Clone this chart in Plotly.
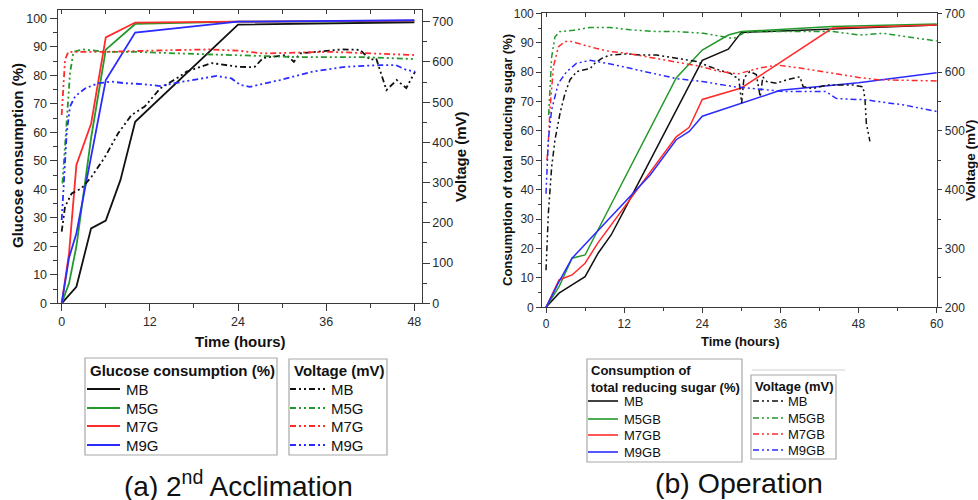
import plotly.graph_objects as go

# ---------------- (a) 2nd Acclimation : glucose consumption (%) ----------------
a_t_MB = [0, 2, 4, 6, 8, 10, 24, 48]
a_g_MB = [0, 5.8, 26.3, 29, 43.3, 63.7, 97.8, 98.6]
a_t_G = [0, 1, 2, 4, 6, 10, 24, 48]
a_g_M5G = [0, 7, 20, 58, 89, 98, 98.8, 99.0]
a_g_M7G = [0, 17.6, 48.5, 63, 93.3, 98.5, 98.8, 99.2]
a_g_M9G = [0, 16, 24.6, 51, 78.3, 95, 98.8, 99.3]

# (a) voltage (mV)
a_vt_MB = [0, 0.45, 1.36, 2.72, 4.08, 5.9, 7.7, 9.5, 11.3, 13.4, 16, 17, 20.4, 22.9, 24,
           25.6, 26.3, 27.4, 30.6, 31.6, 32.4, 34.7, 38, 40.6, 42, 42.8, 44.2, 45.6, 46.9, 48.1]
a_v_MB = [178, 240, 273, 286, 315, 364, 423, 468, 489, 534, 563, 576, 597, 592, 588,
          587, 588, 610, 617, 600, 621, 625, 631, 630, 605, 609, 530, 555, 535, 576]
a_vt_M5G = [0.1, 0.68, 1.13, 1.6, 2.9, 6, 10, 16, 24, 32, 41, 48]
a_v_M5G = [298, 439, 572, 625, 631, 625, 625, 621, 617, 612, 612, 607]
a_vt_M7G = [0, 0.23, 0.45, 0.9, 1.8, 6, 12, 20, 24, 27.4, 36.5, 48]
a_v_M7G = [468, 547, 605, 625, 625, 625, 628, 631, 628, 621, 625, 617]
a_vt_M9G = [0, 0.23, 0.68, 1.13, 1.81, 3.17, 5, 6.8, 8.6, 10.9, 13.4, 16.5, 21.1, 23.1, 24.3,
            25.6, 27.4, 29.7, 34.2, 38.7, 43.3, 45.5, 46.9, 48.1]
a_v_M9G = [207, 290, 423, 489, 514, 534, 547, 551, 547, 545, 540, 551, 565, 559, 543,
           538, 545, 555, 576, 588, 592, 592, 580, 576]

# ---------------- (b) Operation : consumption of total reducing sugar (%) ----------------
b_t_MB = [0, 2, 4, 6, 8, 10, 12, 24, 28, 30, 60]
b_s_MB = [0, 4.8, 7.6, 10.4, 18.4, 24.6, 33, 84, 87.8, 93.5, 96]
b_t_M5GB = [0, 2, 4, 6, 20, 24, 28, 30, 44, 60]
b_s_M5GB = [0, 7, 16.7, 17.8, 78, 87.5, 92.6, 93.8, 95.5, 96.4]
b_t_M7GB = [0, 2, 4, 6, 8, 10, 12, 16, 20, 22, 24, 30, 44, 60]
b_s_M7GB = [0, 9.3, 11, 15, 22, 28, 34, 45.6, 58, 61.2, 70.7, 74.6, 95, 96]
b_t_M9GB = [0, 2, 4, 16, 20, 22, 24, 36, 48, 60]
b_s_M9GB = [0, 8.7, 16.7, 45, 57, 59.8, 65, 73.8, 76.4, 79.8]

# (b) voltage (mV)
b_vt_MB = [0, 0.36, 0.87, 1.38, 2.15, 2.92, 3.69, 4.71, 6.76, 7.5, 8.5, 9.8, 12.4, 14.4, 17,
           20.1, 23.1, 25.2, 26.7, 28.3, 29, 29.6, 30.05, 30.4, 31.3, 32.3, 32.9, 33.3, 33.9, 35.4,
           37, 39, 39.5, 41, 43.1, 45.1, 47.2, 48.7, 49.0, 49.2, 49.75]
b_v_MB = [263, 360, 439, 485, 530, 564, 587, 601, 606, 615, 623, 629, 631, 629, 629,
          623, 618, 609, 603, 598, 592, 590, 547, 590, 601, 596, 558, 592, 584, 581,
          587, 592, 575, 572, 578, 578, 578, 575, 553, 513, 482]
b_vt_M5GB = [0.4, 0.87, 1.38, 2.15, 4.2, 6.76, 9.8, 12.9, 17, 20, 24.2, 27.2, 28.8, 30.3, 32.3,
             37.5, 42.6, 44.1, 48.2, 51.8, 55.4, 60]
b_v_M5GB = [527, 626, 660, 669, 671, 676, 676, 672, 669, 669, 666, 660, 657, 666, 669,
            669, 669, 669, 663, 666, 660, 653]
b_vt_M7GB = [0.15, 0.36, 0.61, 1.13, 1.89, 2.9, 3.9, 5.7, 7.8, 9.8, 12.4, 16, 20, 23.6, 26.7,
             29.5, 32.9, 35.5, 39, 44, 48, 51, 60]
b_v_M7GB = [450, 480, 536, 609, 643, 652, 652, 646, 640, 635, 632, 625, 617, 610, 601,
            597, 607, 612, 607, 598, 591, 587, 585]
b_vt_M9GB = [0, 0.36, 0.87, 1.89, 3.2, 4.7, 6.76, 8.0, 9.3, 11.9, 14.4, 16, 20, 24, 29,
             36.5, 43, 44.6, 49, 51, 55, 60]
b_v_M9GB = [393, 485, 536, 581, 601, 615, 620, 618, 615, 609, 603, 598, 589, 584, 575,
            567, 567, 555, 553, 550, 544, 533]

# legend labels
a_names = ["MB", "M5G", "M7G", "M9G"]
b_names = ["MB", "M5GB", "M7GB", "M9GB"]

# ---------------- styling ----------------
FONT = "Liberation Sans, Arial, sans-serif"
BLACK, GREEN, RED, BLUE = "#111111", "#22992a", "#ff2b2b", "#2b2bff"
COLORS = [BLACK, GREEN, RED, BLUE]
DASH = "6px,3px,2px,3px,2px,3px"
W, H = 978, 500

def X(px):
    return px / W

def Y(py):
    return 1 - py / H

fig = go.Figure()

def add(x, y, name, color, xa, ya, dashed, width):
    fig.add_trace(go.Scatter(
        x=x, y=y, name=name, mode="lines", xaxis=xa, yaxis=ya, showlegend=False,
        line=dict(color=color, width=width, dash=DASH if dashed else "solid")))

# (a) solid
add(a_t_MB, a_g_MB, "MB", BLACK, "x", "y", False, 1.8)
add(a_t_G, a_g_M5G, "M5G", GREEN, "x", "y", False, 1.8)
add(a_t_G, a_g_M7G, "M7G", RED, "x", "y", False, 1.8)
add(a_t_G, a_g_M9G, "M9G", BLUE, "x", "y", False, 1.8)
# (a) voltage
add(a_vt_MB, a_v_MB, "MB", BLACK, "x", "y2", True, 1.8)
add(a_vt_M5G, a_v_M5G, "M5G", GREEN, "x", "y2", True, 1.8)
add(a_vt_M7G, a_v_M7G, "M7G", RED, "x", "y2", True, 1.8)
add(a_vt_M9G, a_v_M9G, "M9G", BLUE, "x", "y2", True, 1.8)
# (b) solid
add(b_t_MB, b_s_MB, "MB", BLACK, "x2", "y3", False, 1.5)
add(b_t_M5GB, b_s_M5GB, "M5GB", GREEN, "x2", "y3", False, 1.5)
add(b_t_M7GB, b_s_M7GB, "M7GB", RED, "x2", "y3", False, 1.5)
add(b_t_M9GB, b_s_M9GB, "M9GB", BLUE, "x2", "y3", False, 1.5)
# (b) voltage
add(b_vt_MB, b_v_MB, "MB", BLACK, "x2", "y4", True, 1.5)
add(b_vt_M5GB, b_v_M5GB, "M5GB", GREEN, "x2", "y4", True, 1.5)
add(b_vt_M7GB, b_v_M7GB, "M7GB", RED, "x2", "y4", True, 1.5)
add(b_vt_M9GB, b_v_M9GB, "M9GB", BLUE, "x2", "y4", True, 1.5)

# dummy traces so the top tick axes get drawn
fig.add_trace(go.Scatter(x=[None], y=[None], xaxis="x3", yaxis="y", showlegend=False, hoverinfo="skip"))
fig.add_trace(go.Scatter(x=[None], y=[None], xaxis="x4", yaxis="y3", showlegend=False, hoverinfo="skip"))

AX = "#3a3a3a"
TK = "#2a2a2a"

def axis(domain, rng, dtick, minor, side=None, anchor=None, overlaying=None, fs=12.5,
         ticks="outside", labels=True, tl=7, mtl=4):
    d = dict(domain=domain, range=rng, dtick=dtick, tick0=0, ticks=ticks, ticklen=tl,
             tickwidth=1.2, tickcolor=AX, showline=True, linecolor=AX, linewidth=1.3,
             showgrid=False, zeroline=False, showticklabels=labels, automargin=False,
             tickfont=dict(family=FONT, size=fs, color=TK),
             minor=dict(dtick=minor, tick0=0, ticks=ticks, ticklen=mtl, tickwidth=1.1, tickcolor=AX))
    if side:
        d["side"] = side
    if anchor:
        d["anchor"] = anchor
    if overlaying:
        d["overlaying"] = overlaying
    return d

dxa = [X(57.7), X(421.7)]
dya = [Y(303.3), Y(10)]
dxb = [X(542.3), X(937.3)]
dyb = [Y(307.3), Y(13.3)]

lay = dict(
    xaxis=axis(dxa, [-0.545, 49.0], 12, 6, anchor="y", fs=12.5),
    yaxis=axis(dya, [0, 102.9], 10, 5, anchor="x", fs=12.5),
    yaxis2=axis(dya, [0, 729], 100, 50, side="right", anchor="x", overlaying="y", fs=12.5),
    xaxis3=axis(dxa, [-0.545, 49.0], 6, 6, side="top", anchor="y", overlaying="x",
                ticks="inside", labels=False, tl=4),
    xaxis2=axis(dxb, [-0.57, 60.1], 12, 6, anchor="y3", fs=12, tl=5, mtl=3),
    yaxis3=axis(dyb, [0, 100], 10, 5, anchor="x2", fs=12, tl=5, mtl=3),
    yaxis4=axis(dyb, [200, 700], 100, 50, side="right", anchor="x2", overlaying="y3", fs=12, tl=4, mtl=3),
    xaxis4=axis(dxb, [-0.57, 60.1], 6, 6, side="top", anchor="y3", overlaying="x2",
                ticks="inside", labels=False, tl=4),
)

fig.update_layout(
    width=W, height=H, margin=dict(l=0, r=0, t=0, b=0),
    paper_bgcolor="white", plot_bgcolor="white", showlegend=False,
    font=dict(family=FONT, color="#111"),
    **lay,
)

def ann(text, x, y, size, angle=0, bold=True, xanchor="center"):
    fig.add_annotation(text=f"<b>{text}</b>" if bold else text, x=X(x), y=Y(y),
                       xref="paper", yref="paper", showarrow=False, textangle=angle,
                       xanchor=xanchor, yanchor="middle",
                       font=dict(family=FONT, size=size, color="#111"))

# axis titles
ann("Glucose consumption (%)", 17, 156, 15, -90)
ann("Voltage (mV)", 460, 157, 15, -90)
ann("Time (hours)", 240, 341, 15)
ann("Consumption of total reducing sugar (%)", 507, 160, 13, -90)
ann("Voltage (mV)", 970, 160, 13.5, -90)
ann("Time (hours)", 740, 341, 13)

# captions
ann("(a) 2<sup>nd</sup> Acclimation", 238, 484, 28, bold=False)
ann("(b) Operation", 739, 483, 28.5, bold=False)

# ---------------- hand-laid legend boxes ----------------
def box(x0, y0, x1, y1):
    fig.add_shape(type="rect", xref="paper", yref="paper", x0=X(x0), x1=X(x1), y0=Y(y1), y1=Y(y0),
                  line=dict(color="#a8a8a8", width=1.2), fillcolor="rgba(0,0,0,0)", layer="above")

def legend_block(names, dashed, lx0, lx1, tx, rows, fs, width):
    for name, col, ry in zip(names, COLORS, rows):
        fig.add_shape(type="line", xref="paper", yref="paper", x0=X(lx0), x1=X(lx1), y0=Y(ry), y1=Y(ry),
                      line=dict(color=col, width=width, dash=DASH if dashed else "solid"))
        ann(name, tx, ry, fs, bold=False, xanchor="left")

# (a) glucose legend
box(85, 358, 277, 455)
ann("Glucose consumption (%)", 88, 370, 15, xanchor="left")
legend_block(a_names, False, 87, 120, 124, [389, 408, 426, 445], 15, 1.8)
# (a) voltage legend
box(289, 359, 387, 455)
ann("Voltage (mV)", 292, 370, 15, xanchor="left")
legend_block(a_names, True, 290, 326, 329, [389, 408, 426, 445], 15, 1.8)
# (b) sugar legend
box(587, 359, 742, 462)
ann("Consumption of", 589, 370, 13, xanchor="left")
ann("total reducing sugar (%)", 589, 387, 13, xanchor="left")
legend_block(b_names, False, 588, 618, 622, [401, 419, 435, 452], 13, 1.6)
# (b) voltage legend
fig.add_shape(type="line", xref="paper", yref="paper", x0=X(752), x1=X(845), y0=Y(370), y1=Y(370),
              line=dict(color="#e0e0e0", width=1.5))
box(751, 375, 836, 459)
ann("Voltage (mV)", 753, 386, 13, xanchor="left")
legend_block(b_names, True, 753, 783, 786, [401, 418, 434, 450], 13, 1.6)

# page body has an 8px default margin; remove it so the figure sits at the window's corner
fig.write_html("out.html", config={"displayModeBar": False},
               post_script="document.body.style.margin='0';document.body.style.overflow='hidden';")
